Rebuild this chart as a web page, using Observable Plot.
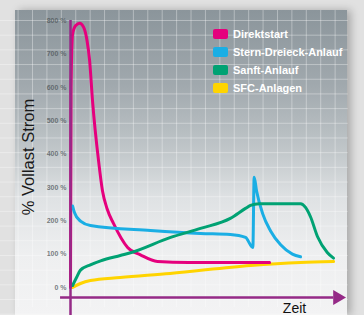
<!DOCTYPE html>
<html>
<head>
<meta charset="utf-8">
<script src="https://cdn.jsdelivr.net/npm/d3@7"></script>
<script src="https://cdn.jsdelivr.net/npm/@observablehq/plot@0.6"></script>
<style>
  html, body { margin: 0; padding: 0; }
  body { width: 364px; height: 315px; overflow: hidden; background: #e1e1e1; font-family: "Liberation Sans", Arial, sans-serif; }
  #wrap { position: relative; width: 364px; height: 315px; }
  #panel { position: absolute; left: 15px; top: 10px; width: 332px; height: 305px;
    background: linear-gradient(to bottom, #8b959b 0%, #a1a9ae 25%, #bfc5c8 45%, #dfe2e4 62%, #eeeff0 80%, #f3f3f4 100%);
    box-shadow: 4px 0 8px rgba(0,0,0,0.25); }
  #chart { position: absolute; left: 0; top: 0; }
  #legend { position: absolute; left: 213px; top: 25px; color: #fff; font-weight: bold; font-size: 11px; line-height: 18px; }
  #legend div { display: flex; align-items: center; white-space: nowrap; }
  #legend span.sw { display: inline-block; width: 15px; height: 10px; margin-right: 5px; border-radius: 2px; }
</style>
</head>
<body>
<div id="wrap"><div id="panel"></div><div id="chart"></div><div id="legend"></div></div>
<script>
const series = ["Direktstart", "Stern-Dreieck-Anlauf", "Sanft-Anlauf", "SFC-Anlagen"];
const colors = ["#e5007d", "#1aaee4", "#00a273", "#ffd400"];
const yTicks = [0, 100, 200, 300, 400, 500, 600, 700, 800];
const yLabel = "% Vollast Strom";
const xLabel = "Zeit";

// time (0–100), percent of full-load current
const direktT = [0, 0.2, 0.8, 2, 3.5, 5, 6.3, 7.3, 8.4, 10.7, 12.2, 14, 16.4, 21.8, 26.7, 33.2, 45, 76];
const direktV = [0, 600, 760, 785, 792, 780, 740, 680, 560, 380, 290, 235, 192, 120, 98, 78, 75, 75];
const sternT = [0.8, 1.5, 3.8, 7.6, 30.5, 49.6, 61, 66.8, 69.6, 70.1, 71, 73.3, 76.3, 80.2, 84.7, 87.8];
const sternV = [244, 225, 199, 186, 171, 162, 159, 150, 120, 330, 290, 222, 170, 128, 100, 92];
const sanftT = [0.8, 2.3, 3.8, 7.6, 11.5, 19, 22.9, 38.2, 49.6, 61, 66.8, 68.7, 72, 87.8, 89.7, 91.6, 94.3, 98, 100.4];
const sanftV = [6, 30, 52, 68, 80, 96, 104, 150, 177, 207, 237, 246, 251, 251, 240, 212, 152, 105, 88];
const sfcT = [0.8, 3.8, 7.6, 19, 38, 68.7, 87.8, 100.4];
const sfcV = [0, 12, 21, 30, 42, 66, 75, 78];

const table = [
  ...direktT.map((t, i) => ({s: series[0], t, v: direktV[i]})),
  ...sternT.map((t, i) => ({s: series[1], t, v: sternV[i]})),
  ...sanftT.map((t, i) => ({s: series[2], t, v: sanftV[i]})),
  ...sfcT.map((t, i) => ({s: series[3], t, v: sfcV[i]}))
];

const axisColor = "#952a87";
const lineOf = s => Plot.line(table.filter(d => d.s === s), {x: "t", y: "v", stroke: "s", strokeWidth: 3, curve: "monotone-x"});
const plot = Plot.plot({
  width: 364, height: 315,
  marginLeft: 70, marginRight: 32, marginTop: 20, marginBottom: 28,
  style: {background: "transparent", fontFamily: "Liberation Sans, Arial, sans-serif"},
  x: {domain: [0, 100], axis: null},
  y: {domain: [0, 800], axis: null},
  color: {domain: series, range: colors},
  marks: [
    Plot.gridX(d3.range(-20, 106, 5.5), {stroke: "#ffffff", strokeOpacity: 0.35, y1: -60, y2: 830}),
    Plot.gridY(d3.range(-80, 840, 44), {stroke: "#ffffff", strokeOpacity: 0.35, x1: -30, x2: 106}),
    Plot.axisY(yTicks, {tickSize: 0, tickPadding: 4, fontSize: 7, fontWeight: "bold", fill: "#4d5457", fillOpacity: 0.75,
      tickFormat: d => d + " %", label: null}),
    lineOf(series[3]),
    lineOf(series[0]),
    lineOf(series[1]),
    lineOf(series[2]),
    Plot.ruleX([0], {y1: -90, y2: 800, stroke: axisColor, strokeWidth: 2.5}),
    Plot.ruleY([-30], {x1: -3.8, x2: 100.5, stroke: axisColor, strokeWidth: 2.5}),
    Plot.dot([{x: 101.9, y: -30}], {x: "x", y: "y", symbol: "triangle", rotate: 90, r: 5.5, fill: axisColor, stroke: "none"}),
    Plot.text([xLabel], {x: 85.5, y: -77, text: d => d, lineAnchor: "bottom", textAnchor: "middle", fontSize: 14, fill: "#111"}),
    Plot.text([yLabel], {frameAnchor: "left", dx: -42, dy: 3, rotate: -90, text: d => d, fontSize: 16.5, fill: "#1a1a1a", textAnchor: "middle"})
  ]
});
document.getElementById("chart").appendChild(plot);

const legend = document.getElementById("legend");
series.forEach((s, i) => {
  const row = document.createElement("div");
  row.innerHTML = `<span class="sw" style="background:${colors[i]}"></span>${s}`;
  legend.appendChild(row);
});
</script>
</body>
</html>
